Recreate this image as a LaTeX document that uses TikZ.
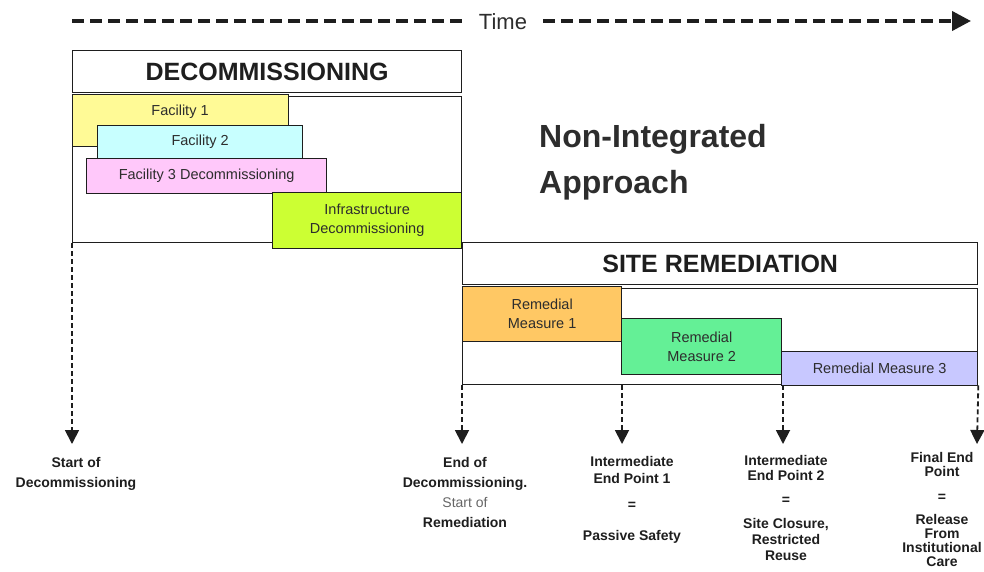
\documentclass[tikz,border=0pt]{standalone}
\usepackage{fontspec}
\setmainfont{Liberation Sans}
\usetikzlibrary{arrows.meta}
\definecolor{ink}{RGB}{30,30,30}
\definecolor{txt}{RGB}{45,45,45}
\definecolor{cyel}{RGB}{255,250,150}
\definecolor{ccyan}{RGB}{200,255,255}
\definecolor{cpink}{RGB}{255,200,250}
\definecolor{clime}{RGB}{204,255,51}
\definecolor{corange}{RGB}{255,200,100}
\definecolor{cgreen}{RGB}{100,240,150}
\definecolor{clav}{RGB}{200,200,255}
\tikzset{
  frame/.style={draw=ink, line width=1.3pt, fill=white, inner sep=0pt, anchor=north west},
  hdrbox/.style={frame, text=ink, font=\fontsize{25}{30}\selectfont\bfseries},
  bar/.style={draw=ink, line width=1.3pt, inner sep=0pt, anchor=north west, align=center,
    text=txt, font=\fontsize{14.5}{19}\selectfont},
  bartext/.style={inner sep=0pt, text=txt, font=\fontsize{14.5}{19}\selectfont},
  milestone/.style={draw=ink, line width=1.8pt, dash pattern=on 5pt off 3pt,
    -{Triangle[width=14pt,length=14pt]}},
  timeline/.style={draw=ink, line width=4pt, dash pattern=on 12pt off 6pt},
  lbl/.style={inner sep=0pt, anchor=north, align=center, text=ink,
    font=\fontsize{14}{14}\selectfont\bfseries},
}
\begin{document}
\begin{tikzpicture}[x=1pt,y=-1pt]
\useasboundingbox (0,0) rectangle (984,571);
% time axis
\coordinate (t0) at (72,21);
\coordinate (t1) at (465,21);
\coordinate (t2) at (543,21);
\coordinate (t3) at (971,21);
\node[inner sep=0pt, text=txt, font=\fontsize{22}{26}\selectfont] (time) at (503,22) {Time};
\draw[timeline] (t0) -- (t1);
\draw[timeline, -{Triangle[width=19pt,length=19pt]}] (t2) -- (t3);
% decommissioning frame
\node[frame, minimum width=389pt, minimum height=146pt] (db) at (72,96) {};
\node[hdrbox, minimum width=389pt, minimum height=42pt] (dh) at (72,50) {DECOMMISSIONING};
% site remediation frame
\node[frame, minimum width=515pt, minimum height=96pt] (sb) at (462,288) {};
\node[hdrbox, minimum width=515pt, minimum height=42pt] (sh) at (462,242) {SITE REMEDIATION};
% decommissioning bars
\node[bar, fill=cyel, minimum width=216pt, minimum height=52pt] (f1) at (72,94) {};
\node[bartext] (f1t) at (180,112) {Facility 1};
\node[bar, fill=ccyan, minimum width=205pt, minimum height=33pt] (f2) at (97,125) {Facility 2};
\node[bar, fill=cpink, minimum width=240pt, minimum height=35pt] (f3) at (86,158) {Facility 3 Decommissioning};
\node[bar, fill=clime, minimum width=189pt, minimum height=56pt] (inf) at (272,192) {Infrastructure\\Decommissioning};
% remediation bars
\node[bar, fill=corange, minimum width=159pt, minimum height=55pt] (rm1) at (462,286) {Remedial\\Measure 1};
\node[bar, fill=cgreen, minimum width=160pt, minimum height=56pt] (rm2) at (621,318) {Remedial\\Measure 2};
\node[bar, fill=clav, minimum width=196pt, minimum height=34pt] (rm3) at (781,351) {Remedial Measure 3};
% title
\node[inner sep=0pt, anchor=base west, align=left, text=txt,
  font=\fontsize{32}{46}\selectfont\bfseries] (title) at (539,193) {Non-Integrated\\Approach};
% milestone arrows
\coordinate (m0) at (72,444);
\coordinate (m1) at (462,444);
\coordinate (m2) at (622,444);
\coordinate (m3) at (783,444);
\coordinate (m4) at (977,444);
\draw[milestone] (db.south west) -- (m0);
\draw[milestone] (sb.south west) -- (m1);
\draw[milestone] (m2 |- sb.south) -- (m2);
\draw[milestone] (m3 |- sb.south) -- (m3);
\draw[milestone] (sb.south east) -- (m4);
% milestone labels
\node[lbl, font=\fontsize{14}{20}\selectfont\bfseries] (l0) at (76,457) {Start of\\Decommissioning};
\node[lbl, font=\fontsize{14}{20}\selectfont\bfseries] (l1) at (465,457) {End of\\Decommissioning.\\{\mdseries\color{gray!80!black}Start of}\\Remediation};
\node[lbl] (l2) at (632,456) {Intermediate\\[3pt]End Point 1\\[12pt]=\\[17pt]Passive Safety};
\node[lbl] (l3) at (786,455) {Intermediate\\[1pt]End Point 2\\[10pt]=\\[10pt]Site Closure,\\[2pt]Restricted\\[2pt]Reuse};
\node[lbl] (l4) at (942,452) {Final End\\Point\\[11pt]=\\[9pt]Release\\From\\Institutional\\Care};
\end{tikzpicture}
\end{document}
